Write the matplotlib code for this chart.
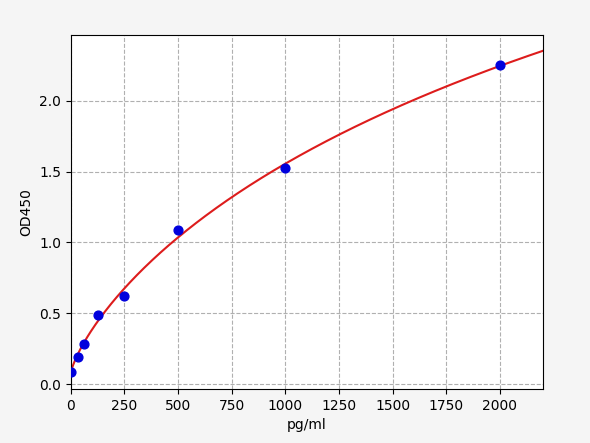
import numpy as np
import matplotlib
matplotlib.use("Agg")
import matplotlib.pyplot as plt

# standard concentrations and measured OD
conc = [0, 31.25, 62.5, 125, 250, 500, 1000, 2000]
od = [0.085, 0.19, 0.28, 0.49, 0.62, 1.09, 1.525, 2.255]

x = np.array(conc)
y = np.array(od)

# 4PL fit: grid over b, c; a and d by least squares
best = None
for b in np.linspace(0.5, 1.6, 111):
    for c in np.geomspace(200, 20000, 200):
        g = 1.0 / (1.0 + (x / c) ** b)
        A = np.column_stack([g, 1 - g])
        coef, res, _, _ = np.linalg.lstsq(A, y, rcond=None)
        err = np.sum((A @ coef - y) ** 2)
        if best is None or err < best[0]:
            best = (err, b, c, coef[0], coef[1])
_, b, c, a, d = best

xs = np.linspace(0, 2200, 400)
ys = d + (a - d) / (1 + (xs / c) ** b)

fig = plt.figure(figsize=(5.9, 4.43), dpi=100, facecolor="#f5f5f5")
ax = fig.add_axes([0.12, 0.122, 0.8, 0.799])
ax.plot(xs, ys, color="#dd1c1c", lw=1.5)
ax.scatter(x, y, color="#0000dd", s=40, zorder=3)
ax.set_xlim(0, 2200)
ax.set_ylim(-0.035, 2.466)
ax.set_xticks(np.arange(0, 2001, 250))
ax.set_xlabel("pg/ml")
ax.set_ylabel("OD450")
ax.grid(True, linestyle="--", color="#b0b0b0")

fig.savefig("out.png", dpi=100, facecolor=fig.get_facecolor())
